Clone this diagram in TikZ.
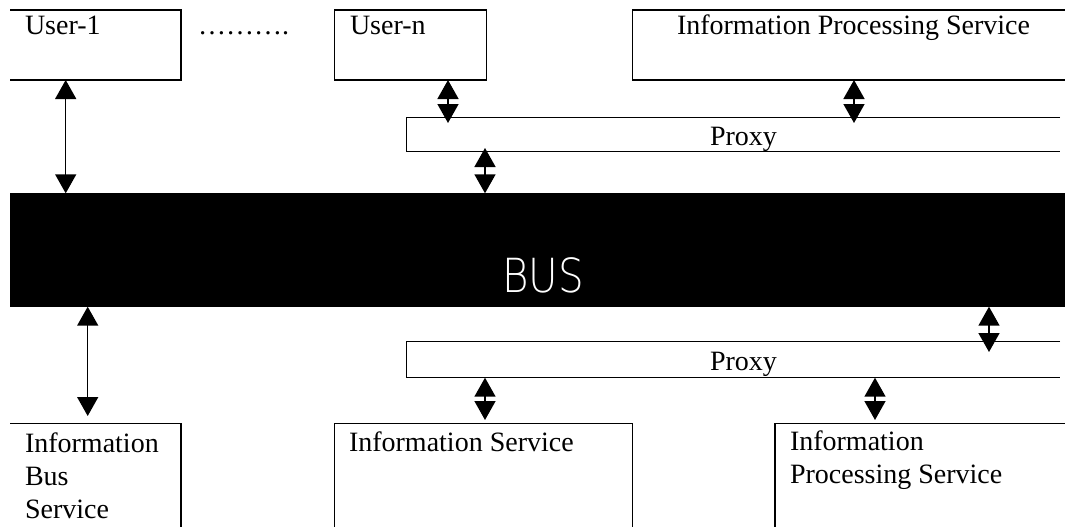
\documentclass[tikz,border=0pt]{standalone}
\usepackage{fontspec}
\setmainfont{Liberation Serif}
\newfontfamily\busfont{DejaVu Sans ExtraLight}[FakeStretch=0.86]
\usetikzlibrary{arrows.meta}

\tikzset{
  frame/.style={line width=1.4pt},
  area/.style={rectangle, inner sep=0pt, outer sep=0pt, anchor=north west},
  lbl/.style={font=\fontsize{28}{33}\selectfont, inner sep=0pt, outer sep=0pt,
              anchor=base west, align=left},
  biarrow/.style={line width=1.5pt,
    {Triangle[width=21pt,length=19pt]}-{Triangle[width=21pt,length=19pt]}}
}

\begin{document}
\begin{tikzpicture}[x=1pt,y=-1pt]
\useasboundingbox (0,0) rectangle (1065,527);
\clip (0,0) rectangle (1065,527);

% ---- box areas ----
\node[area, minimum width=171,   minimum height=70]  (u1)     at (10,10)      {};
\node[area, minimum width=152,   minimum height=70]  (un)     at (334.7,10)   {};
\node[area, minimum width=432.3, minimum height=70]  (ipsT)   at (632.7,10)   {};
\node[area, minimum width=653.3, minimum height=34]  (proxyT) at (406.7,117.7) {};
\node[area, minimum width=1055,  minimum height=113.4, fill=black] (bus) at (10,193.3) {};
\node[area, minimum width=653.3, minimum height=36]  (proxyB) at (406.7,341.7) {};
\node[area, minimum width=171,   minimum height=110] (ibs)    at (10,423.3)   {};
\node[area, minimum width=298,   minimum height=110] (is)     at (334.7,423.3) {};
\node[area, minimum width=290,   minimum height=110] (ipsB)   at (775,423.3)  {};

% ---- visible outlines ----
\draw[frame] (u1.north west) -- (u1.north east) -- (u1.south east) -- (u1.south west);
\draw[frame] (un.north west) rectangle (un.south east);
\draw[frame] (ipsT.north east) -- (ipsT.north west) -- (ipsT.south west) -- (ipsT.south east);
\draw[frame] (proxyT.north east) -- (proxyT.north west) -- (proxyT.south west) -- (proxyT.south east);
\draw[frame] (proxyB.north east) -- (proxyB.north west) -- (proxyB.south west) -- (proxyB.south east);
\draw[frame] (ibs.south east) -- (ibs.north east) -- (ibs.north west);
\draw[frame] (is.south west) -- (is.north west) -- (is.north east) -- (is.south east);
\draw[frame] (ipsB.south west) -- (ipsB.north west) -- (ipsB.north east);

% ---- labels (multi-line labels are placed by their last baseline) ----
\node[lbl] (t-u1)   at (25,35)    {User-1};
\node[lbl] (t-dots) at (198,35)   {……….};
\node[lbl] (t-un)   at (350,35)   {User-n};
\node[lbl] (t-ipsT) at (677,35)   {Information Processing Service};
\node[lbl] (t-pT)   at (710,145.5) {Proxy};
\node[font=\busfont\fontsize{47}{47}\selectfont, text=white, anchor=base,
      inner sep=0pt] (t-bus) at (543,292) {BUS};
\node[lbl] (t-pB)   at (710,370)  {Proxy};
\node[lbl] (t-ibs)  at (25,518)   {Information\\Bus\\Service};
\node[lbl] (t-is)   at (349,451.7) {Information Service};
\node[lbl] (t-ipsB) at (790,483)  {Information\\Processing Service};

% ---- arrow columns / free ends ----
\coordinate (cA) at (65.7,0);
\coordinate (cB) at (448,123);
\coordinate (cC) at (485,148);
\coordinate (cD) at (854,123);
\coordinate (cE) at (989,352);
\coordinate (cF) at (87.7,416);
\coordinate (cH) at (485,420);
\coordinate (cG) at (875,420);

% ---- connectors ----
\draw[biarrow] (u1.south -| cA) -- (bus.north -| cA);
\draw[biarrow] (un.south -| cB) -- (cB);
\draw[biarrow] (cC) -- (bus.north -| cC);
\draw[biarrow] (ipsT.south -| cD) -- (cD);
\draw[biarrow] (bus.south -| cE) -- (cE);
\draw[biarrow] (bus.south -| cF) -- (cF);
\draw[biarrow] (proxyB.south -| cH) -- (cH);
\draw[biarrow] (proxyB.south -| cG) -- (cG);
\end{tikzpicture}
\end{document}
